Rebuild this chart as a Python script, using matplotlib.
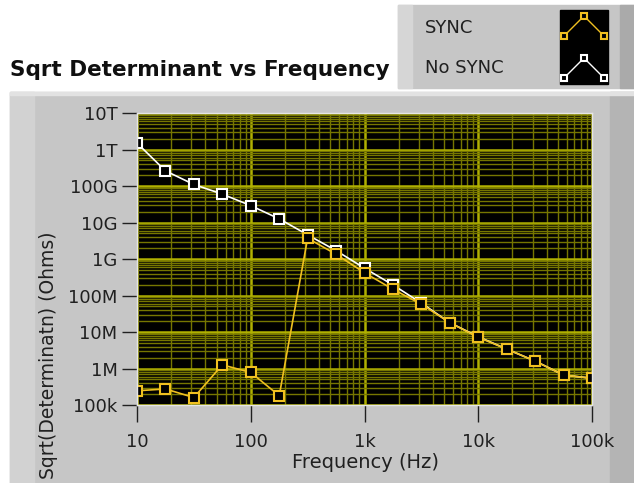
import matplotlib
matplotlib.use("Agg")
import matplotlib.pyplot as plt
from matplotlib.patches import Rectangle
from matplotlib.lines import Line2D

# frequency sweep points (Hz)
freq = [10, 17.8, 31.6, 56.2, 100, 178, 316, 562, 1000, 1780, 3160,
        5620, 10000, 17800, 31600, 56200, 100000]

# sqrt(det) values in Ohms
no_sync = [1.5e12, 2.6e11, 1.1e11, 6.0e10, 2.9e10, 1.26e10, 4.6e9, 1.7e9,
           5.6e8, 1.95e8, 6.2e7, 1.8e7, 7.4e6, 3.4e6, 1.6e6, 6.6e5, 5.4e5]
sync = [2.45e5, 2.75e5, 1.6e5, 1.26e6, 7.8e5, 1.8e5, 3.7e9, 1.35e9,
        4.2e8, 1.48e8, 5.8e7, 1.8e7, 7.2e6, 3.4e6, 1.6e6, 6.6e5, 5.4e5]

xticks = [10, 100, 1e3, 1e4, 1e5]
xlabels = ["10", "100", "1k", "10k", "100k"]
yticks = [1e5, 1e6, 1e7, 1e8, 1e9, 1e10, 1e11, 1e12, 1e13]
ylabels = ["100k", "1M", "10M", "100M", "1G", "10G", "100G", "1T", "10T"]

W, H = 634, 483
fig = plt.figure(figsize=(W / 100, H / 100), dpi=100)
fig.patch.set_facecolor("white")

def px(x, y, w, h):
    # pixel box (top-left origin) -> figure fraction
    return (x / W, 1 - (y + h) / H, w / W, h / H)

# gray panel behind the graph
bg = fig.add_axes([0, 0, 1, 1], zorder=-1)
bg.set_xlim(0, W)
bg.set_ylim(H, 0)
bg.axis("off")
bg.add_patch(Rectangle((10, 92), W - 10, H - 92, color="#c6c6c6"))
bg.add_patch(Rectangle((10, 92), 24, H - 92, color="#d2d2d2"))
bg.add_patch(Rectangle((610, 92), 24, H - 92, color="#b4b4b4"))
bg.add_patch(Rectangle((10, 92), W - 10, 3, color="#e2e2e2"))

# legend panel
bg.add_patch(Rectangle((398, 5), W - 398, 83, color="#c6c6c6"))
bg.add_patch(Rectangle((398, 5), 14, 83, color="#d6d6d6"))
bg.add_patch(Rectangle((620, 5), 14, 83, color="#aaaaaa"))
bg.add_patch(Rectangle((560, 10), 48, 74, color="black"))
bg.text(425, 28, "SYNC", fontsize=13, va="center", color="#202020")
bg.text(425, 68, "No SYNC", fontsize=13, va="center", color="#202020")
bg.add_line(Line2D([564, 584, 604], [36, 16, 36], color="#f0c020", lw=1,
                   marker="s", ms=5, mfc="black", mec="#f0c020", mew=1.5))
bg.add_line(Line2D([564, 584, 604], [78, 58, 78], color="white", lw=1,
                   marker="s", ms=5, mfc="black", mec="white", mew=1.5))

bg.text(10, 70, "Sqrt Determinant vs Frequency", fontsize=15.5,
        fontweight="bold", va="center", color="#101010")

# axis titles placed on the panel
bg.text(365, 462, "Frequency (Hz)", fontsize=14, ha="center", va="center",
        color="#202020")
bg.text(49, 355, "Sqrt(Determinatn) (Ohms)", fontsize=13.5, rotation=90,
        ha="center", va="center", color="#202020")

ax = fig.add_axes(px(137, 113, 455, 292))
ax.set_facecolor("black")
ax.set_xscale("log")
ax.set_yscale("log")
ax.set_xlim(10, 1e5)
ax.set_ylim(1e5, 1e13)

ax.grid(True, which="minor", color="#767600", lw=1.0)
ax.grid(True, which="major", color="#b0b000", lw=1.8)
ax.set_axisbelow(True)

ax.plot(freq, no_sync, color="white", lw=1.2, marker="s", ms=6.5,
        mfc="black", mec="white", mew=1.5)
ax.plot(freq, sync, color="#f0c020", lw=1.2, marker="s", ms=6.5,
        mfc="black", mec="#f0c020", mew=1.5)

ax.set_xticks(xticks)
ax.set_xticklabels(xlabels)
ax.set_yticks(yticks)
ax.set_yticklabels(ylabels)
ax.tick_params(which="minor", length=0)
ax.tick_params(axis="y", which="major", length=11, width=1, direction="out",
               labelsize=13, pad=3, colors="#202020")
ax.tick_params(axis="x", which="major", length=12, width=1, direction="out",
               labelsize=13, pad=8, colors="#202020")
for s in ax.spines.values():
    s.set_color("#e6e6e6")
    s.set_linewidth(1)

fig.savefig("out.png", dpi=100)
